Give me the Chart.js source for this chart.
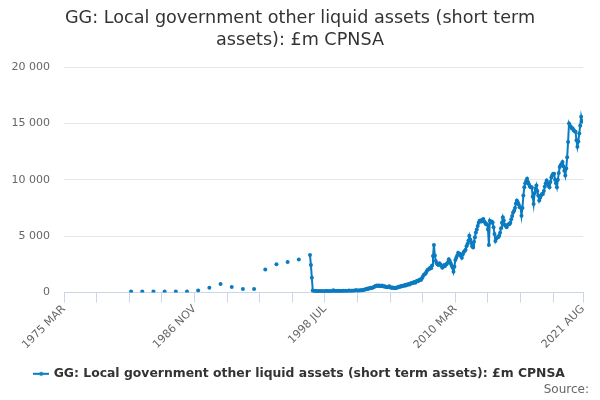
<!DOCTYPE html>
<html>
<head>
<meta charset="utf-8">
<script src="https://cdn.jsdelivr.net/npm/chart.js@4/dist/chart.umd.min.js"></script>
<style>
  html, body { margin: 0; padding: 0; background: #fff; }
  #wrap { width: 600px; height: 400px; }
</style>
</head>
<body>
<div id="wrap"><canvas id="chart"></canvas></div>
<script>
// Série: GG local government other liquid assets, £m CPNSA
const titleLines = ['GG: Local government other liquid assets (short term', 'assets): £m CPNSA'];
const seriesLabel = 'GG: Local government other liquid assets (short term assets): £m CPNSA';
const sourceText = 'Source:';
const monthNames = ['JAN', 'FEB', 'MAR', 'APR', 'MAY', 'JUN', 'JUL', 'AUG', 'SEP', 'OCT', 'NOV', 'DEC'];

// pontos anuais (março de cada ano)
const annualYears = [1981, 1982, 1983, 1984, 1985, 1986, 1987, 1988, 1989, 1990, 1991, 1992, 1993, 1994, 1995, 1996];
const annualValues = [100, 100, 100, 100, 100, 100, 180, 440, 770, 500, 325, 325, 2040, 2520, 2720, 2930];

// série mensal a partir de 1997 MAR
const monthlyStartYear = 1997;
const monthlyStartMonth = 3;
const monthlyValues = [
  3330, 2440, 1310, 180, 150, 120, 140, 110, 130, 120,                     // 1997
  120, 110, 130, 120, 100, 130, 120, 110, 140, 120, 110, 130,             // 1998
  120, 100, 130, 210, 150, 140, 120, 130, 160, 140, 130, 150,             // 1999
  140, 130, 160, 150, 170, 140, 150, 160, 180, 150, 170, 160,             // 2000
  170, 160, 180, 190, 200, 180, 170, 190, 200, 190, 210, 230,             // 2001
  250, 270, 300, 320, 360, 340, 380, 420, 400, 440, 480, 520,             // 2002
  560, 600, 620, 580, 640, 600, 560, 620, 580, 540, 560, 520,             // 2003
  500, 480, 520, 560, 500, 440, 420, 460, 400, 380, 440, 420,             // 2004
  460, 520, 500, 560, 540, 600, 580, 620, 680, 640, 720, 700,             // 2005
  760, 720, 800, 860, 820, 900, 940, 880, 980, 1040, 1000, 1100,          // 2006
  1160, 1120, 1250, 1400, 1550, 1620, 1700, 1850, 2000, 2050, 2100, 2200, // 2007
  2150, 2400, 3240, 4230, 3300, 2800, 2600, 2500, 2450, 2600, 2500, 2350, // 2008
  2200, 2300, 2450, 2350, 2500, 2550, 2700, 2950, 2800, 2600, 2400, 2200, // 2009
  1850, 2300, 2900, 3100, 3300, 3540, 3400, 3450, 3240, 3100, 3400, 3600, // 2010
  3690, 3800, 4100, 4300, 4600, 5030, 4700, 4400, 4100, 3990, 4500, 4900, // 2011
  5330, 5600, 5900, 6200, 6370, 6400, 6300, 6450, 6520, 6300, 6200, 6070, // 2012
  6070, 5600, 4230, 6370, 6200, 6300, 6220, 5800, 5200, 4580, 4800, 4900, // 2013
  4900, 5030, 5300, 5700, 6200, 6670, 6400, 6000, 5920, 5800, 6000, 6070, // 2014
  6070, 6200, 6500, 6800, 7100, 7260, 7500, 7900, 8155, 8000, 7800, 7560, // 2015
  7560, 6820, 7500, 8600, 9345, 9700, 9900, 10090, 9800, 9600, 9400, 9345, // 2016
  9345, 8500, 7860, 8800, 9200, 9490, 9000, 8600, 8155, 8400, 8600, 8750, // 2017
  8750, 9000, 9400, 9700, 9940, 9700, 9500, 9345, 9800, 10200, 10400, 10540, // 2018
  10540, 10000, 9700, 9345, 10000, 10600, 11130, 11300, 11400, 11580, 11200, 10800, // 2019
  10390, 11000, 12000, 13360, 15000, 14800, 14700, 14600, 14550, 14400, 14300, 14260, // 2020
  13500, 12920, 13400, 14110, 14800, 15600, 15200, 15150                  // 2021
];

// eixo x: meses contados a partir de 1975 MAR
const axisStart = { year: 1975, month: 3 };
const axisEnd = { year: 2021, month: 8 };
const tickStepMonths = 35;
const yTicks = [0, 5000, 10000, 15000, 20000];

const corSerie = '#0b7bc1';
const fonte = "'DejaVu Sans', sans-serif";

function mesIndice(ano, mes) {
  return (ano - axisStart.year) * 12 + (mes - axisStart.month);
}
function rotuloMes(v) {
  const total = v + axisStart.month - 1;
  const ano = axisStart.year + Math.floor(total / 12);
  return ano + ' ' + monthNames[total % 12];
}

const pontos = [];
annualYears.forEach((a, i) => pontos.push({ x: mesIndice(a, 3), y: annualValues[i] }));
monthlyValues.forEach((v, i) => pontos.push({ x: mesIndice(monthlyStartYear, monthlyStartMonth) + i, y: v }));

const xMax = mesIndice(axisEnd.year, axisEnd.month);

// símbolo da legenda: linha com ponto
const simbolo = document.createElement('canvas');
simbolo.width = 16; simbolo.height = 8;
(function () {
  const c = simbolo.getContext('2d');
  c.strokeStyle = corSerie; c.lineWidth = 2;
  c.beginPath(); c.moveTo(0, 4); c.lineTo(16, 4); c.stroke();
  c.fillStyle = corSerie;
  c.beginPath(); c.arc(8, 4, 2, 0, Math.PI * 2); c.fill();
})();

// texto "Source:" no canto inferior direito
const pluginFonte = {
  id: 'fonteTexto',
  afterDraw(chart) {
    const c = chart.ctx;
    c.save();
    c.font = "12px " + fonte;
    c.fillStyle = '#666666';
    c.textAlign = 'right';
    c.textBaseline = 'middle';
    c.fillText(sourceText, 589, 390);
    c.restore();
  }
};

new Chart(document.getElementById('chart'), {
  type: 'line',
  data: {
    datasets: [{
      label: seriesLabel,
      data: pontos,
      borderColor: corSerie,
      backgroundColor: corSerie,
      borderWidth: 2,
      pointRadius: 2,
      pointBorderWidth: 0,
      pointBackgroundColor: corSerie,
      tension: 0,
      segment: {
        // só liga pontos mensais consecutivos
        borderColor: ctx => (ctx.p1.parsed.x - ctx.p0.parsed.x > 1 ? 'transparent' : corSerie)
      }
    }]
  },
  options: {
    responsive: true,
    maintainAspectRatio: false,
    animation: false,
    layout: { padding: { left: 0, right: 0, top: 7, bottom: 10 } },
    scales: {
      x: {
        type: 'linear',
        min: 0,
        max: xMax,
        afterBuildTicks: axis => {
          const t = [];
          for (let v = 0; v < xMax - 10; v += tickStepMonths) t.push({ value: v });
          t.push({ value: xMax });
          axis.ticks = t;
        },
        afterFit: axis => { axis.height = 69; },
        grid: { drawOnChartArea: false, drawTicks: true, tickLength: 10, color: '#ccd6eb' },
        border: { display: true, color: '#ccd6eb' },
        ticks: {
          autoSkip: false,
          maxRotation: 45,
          minRotation: 45,
          padding: 0,
          color: '#666666',
          font: { family: fonte, size: 11 },
          callback: (v, i, arr) => ((i % 4 === 0 || i === arr.length - 1) ? rotuloMes(v) : '')
        }
      },
      y: {
        min: 0,
        max: 20000,
        afterBuildTicks: axis => { axis.ticks = yTicks.map(v => ({ value: v })); },
        afterFit: axis => { axis.width = 64; },
        grid: { color: '#e6e6e6', drawTicks: false },
        border: { display: false },
        ticks: {
          padding: 14,
          color: '#666666',
          font: { family: fonte, size: 11 },
          callback: v => v.toString().replace(/\B(?=(\d{3})+(?!\d))/g, ' ')
        }
      },
      // eixo vazio à direita, só para reservar a margem
      margemDireita: {
        type: 'linear',
        position: 'right',
        display: true,
        afterFit: axis => { axis.width = 17; },
        grid: { display: false },
        border: { display: false },
        ticks: { display: false }
      }
    },
    plugins: {
      title: {
        display: true,
        text: titleLines,
        color: '#333333',
        font: { family: fonte, size: 17.6, weight: 'normal', lineHeight: 1.25 },
        padding: { top: 0, bottom: 16 }
      },
      legend: {
        position: 'bottom',
        labels: {
          usePointStyle: true,
          pointStyle: simbolo,
          color: '#333333',
          font: { family: fonte, size: 12.4, weight: 'bold' },
          padding: 6
        }
      },
      tooltip: { enabled: false }
    }
  },
  plugins: [pluginFonte]
});
</script>
</body>
</html>
